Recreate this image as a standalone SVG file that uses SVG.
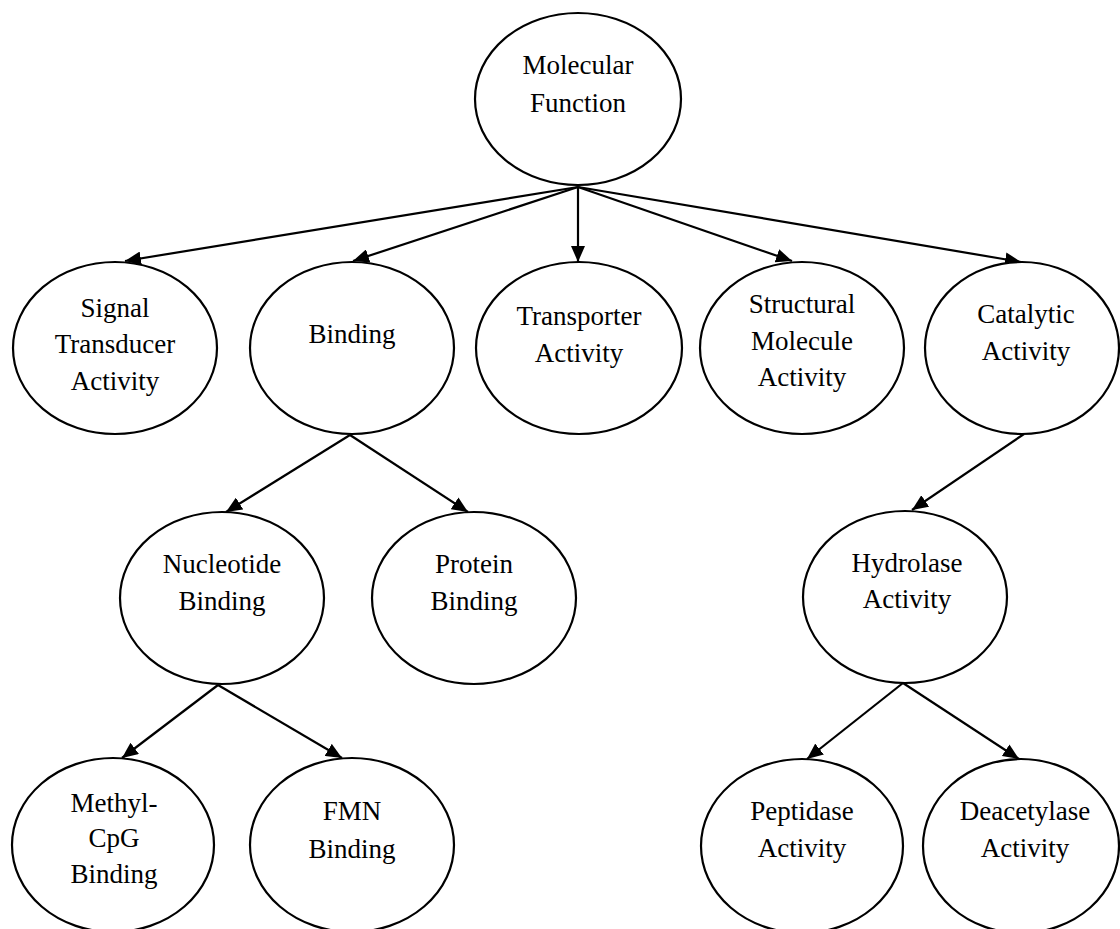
<svg xmlns="http://www.w3.org/2000/svg" width="1120" height="929" viewBox="0 0 1120 929">
  <style>
    .node ellipse { fill: #ffffff; stroke: #000000; stroke-width: 2.2; }
    .node text { font-family: "Liberation Serif", "Times New Roman", serif; font-size: 27px; fill: #000000; text-anchor: middle; }
    .edges line { stroke: #000000; stroke-width: 2.2; marker-end: url(#arrow); }
  </style>
  <defs>
    <marker id="arrow" markerUnits="userSpaceOnUse" markerWidth="18" markerHeight="14" refX="16" refY="7" orient="auto">
      <path d="M0,0 L16,7 L0,14 Z" fill="#000000"/>
    </marker>
  </defs>
  <rect width="1120" height="929" fill="#ffffff"/>

  <!-- connectors -->
  <g id="edges" class="edges">
    <line x1="578" y1="187" x2="125" y2="261"/>
    <line x1="578" y1="187" x2="353" y2="261"/>
    <line x1="578" y1="187" x2="578" y2="262"/>
    <line x1="578" y1="187" x2="792" y2="261"/>
    <line x1="578" y1="187" x2="1021" y2="262"/>
    <line x1="350" y1="435" x2="226" y2="512"/>
    <line x1="350" y1="435" x2="468" y2="512"/>
    <line x1="1024" y1="434" x2="912" y2="510"/>
    <line x1="218" y1="685" x2="122" y2="758"/>
    <line x1="218" y1="685" x2="342" y2="758"/>
    <line x1="903" y1="683" x2="807" y2="759"/>
    <line x1="903" y1="683" x2="1019" y2="759"/>
  </g>

  <!-- nodes -->
  <g id="molecular-function" class="node">
    <ellipse cx="578" cy="99" rx="103" ry="86"/>
    <text x="578" y="74">Molecular</text>
    <text x="578" y="112">Function</text>
  </g>
  <g id="signal-transducer" class="node">
    <ellipse cx="115" cy="348" rx="102" ry="86"/>
    <text x="115" y="317">Signal</text>
    <text x="115" y="353">Transducer</text>
    <text x="115" y="390">Activity</text>
  </g>
  <g id="binding" class="node">
    <ellipse cx="352" cy="348" rx="102" ry="86"/>
    <text x="352" y="343">Binding</text>
  </g>
  <g id="transporter" class="node">
    <ellipse cx="579" cy="348" rx="103" ry="86"/>
    <text x="579" y="325">Transporter</text>
    <text x="579" y="362">Activity</text>
  </g>
  <g id="structural-molecule" class="node">
    <ellipse cx="802" cy="348" rx="102" ry="86"/>
    <text x="802" y="313">Structural</text>
    <text x="802" y="350">Molecule</text>
    <text x="802" y="386">Activity</text>
  </g>
  <g id="catalytic" class="node">
    <ellipse cx="1022" cy="348" rx="97" ry="86"/>
    <text x="1026" y="323">Catalytic</text>
    <text x="1026" y="360">Activity</text>
  </g>
  <g id="nucleotide-binding" class="node">
    <ellipse cx="222" cy="598" rx="102" ry="86"/>
    <text x="222" y="573">Nucleotide</text>
    <text x="222" y="610">Binding</text>
  </g>
  <g id="protein-binding" class="node">
    <ellipse cx="474" cy="598" rx="102" ry="86"/>
    <text x="474" y="573">Protein</text>
    <text x="474" y="610">Binding</text>
  </g>
  <g id="hydrolase" class="node">
    <ellipse cx="905" cy="597" rx="102" ry="86"/>
    <text x="907" y="572">Hydrolase</text>
    <text x="907" y="608">Activity</text>
  </g>
  <g id="methyl-cpg-binding" class="node">
    <ellipse cx="113" cy="845" rx="101" ry="87"/>
    <text x="114" y="812">Methyl-</text>
    <text x="114" y="847">CpG</text>
    <text x="114" y="883">Binding</text>
  </g>
  <g id="fmn-binding" class="node">
    <ellipse cx="352" cy="845" rx="102" ry="87"/>
    <text x="352" y="820">FMN</text>
    <text x="352" y="858">Binding</text>
  </g>
  <g id="peptidase" class="node">
    <ellipse cx="802" cy="846" rx="101" ry="87"/>
    <text x="802" y="820">Peptidase</text>
    <text x="802" y="857">Activity</text>
  </g>
  <g id="deacetylase" class="node">
    <ellipse cx="1021" cy="846" rx="98" ry="87"/>
    <text x="1025" y="820">Deacetylase</text>
    <text x="1025" y="857">Activity</text>
  </g>
</svg>
